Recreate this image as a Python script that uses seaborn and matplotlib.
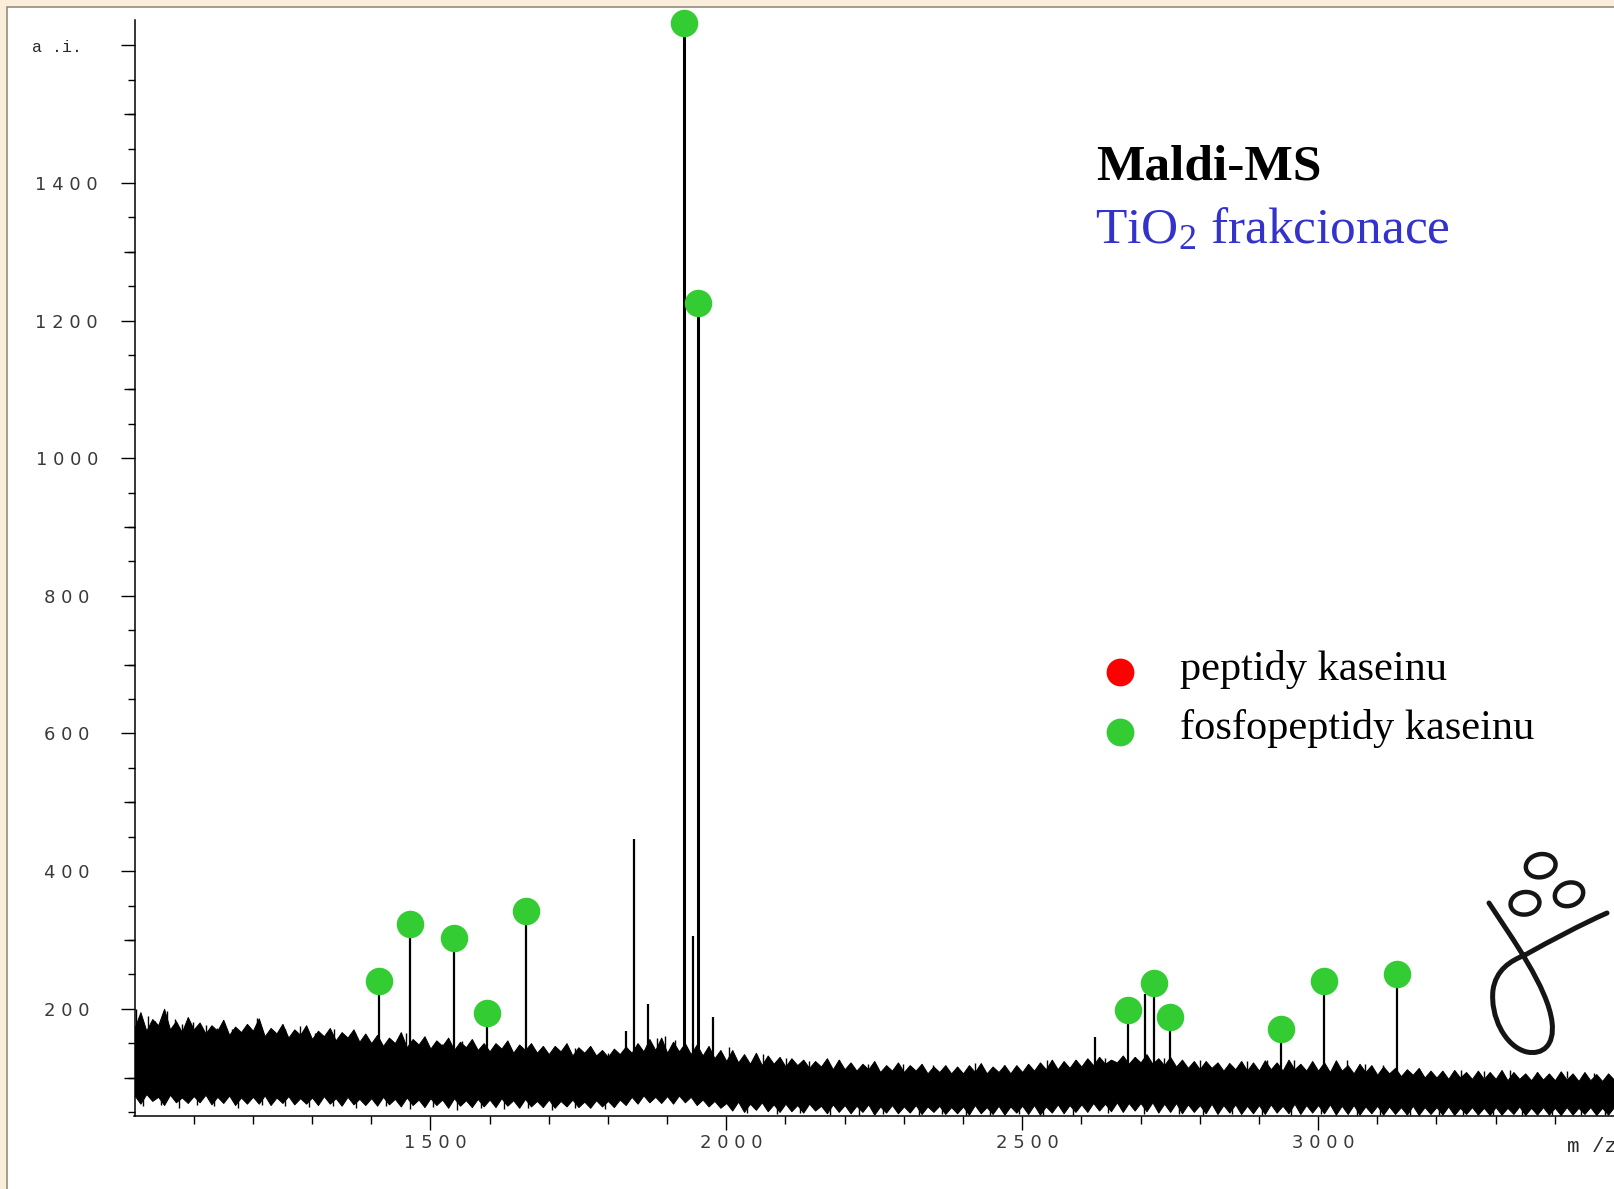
import matplotlib
matplotlib.use("Agg")
import matplotlib.pyplot as plt
import matplotlib.transforms as mtransforms
from matplotlib.patches import Rectangle, Ellipse, PathPatch
from matplotlib.path import Path
import pandas as pd
import seaborn as sns

# ---------------------------------------------------------------- data
# baseline noise of the spectrum, sampled every 10 m/z: upper and lower edge of the trace
noise_mz = list(range(1000, 3501, 10))
noise_top = [172, 195, 168, 185, 176, 200, 170, 182, 166, 188,
             170, 180, 164, 176, 168, 184, 162, 174, 166, 178,
             168, 186, 160, 172, 164, 178, 158, 170, 162, 176,
             156, 168, 160, 172, 154, 166, 158, 170, 152, 164,
             150, 162, 146, 158, 150, 166, 144, 156, 148, 160,
             142, 154, 146, 158, 140, 152, 144, 156, 140, 150,
             138, 150, 142, 154, 136, 148, 140, 150, 136, 146,
             134, 146, 138, 150, 132, 144, 136, 146, 132, 140,
             130, 142, 134, 145, 136, 150, 138, 156, 140, 158,
             136, 152, 138, 150, 134, 148, 132, 146, 128, 140,
             124, 140, 122, 134, 120, 136, 118, 132, 120, 130,
             116, 128, 118, 126, 114, 124, 116, 128, 112, 126,
             112, 122, 110, 120, 112, 124, 108, 118, 110, 122,
             108, 118, 110, 120, 106, 116, 108, 118, 106, 116,
             106, 118, 108, 121, 106, 116, 108, 118, 106, 118,
             108, 120, 110, 122, 112, 126, 112, 124, 114, 126,
             116, 128, 118, 130, 120, 126, 122, 132, 120, 130,
             122, 134, 120, 128, 118, 130, 116, 126, 114, 124,
             112, 124, 114, 122, 110, 121, 112, 124, 110, 122,
             110, 125, 112, 122, 110, 126, 112, 120, 110, 124,
             110, 122, 108, 125, 110, 118, 106, 120, 108, 118,
             104, 116, 106, 114, 102, 112, 104, 114, 100, 110,
             100, 110, 98, 111, 100, 108, 98, 110, 98, 108,
             98, 111, 96, 108, 98, 106, 96, 108, 97, 106,
             96, 109, 97, 106, 95, 108, 96, 105, 95, 106,
             97]
noise_bottom = [74, 62, 76, 66, 72, 60, 75, 64, 71, 63,
                73, 64, 75, 61, 72, 63, 74, 60, 71, 62,
                72, 62, 74, 60, 71, 63, 73, 61, 70, 62,
                71, 60, 73, 62, 70, 59, 72, 61, 69, 60,
                70, 59, 72, 61, 69, 58, 71, 60, 68, 57,
                70, 60, 68, 56, 70, 59, 67, 57, 69, 58,
                68, 57, 70, 59, 67, 56, 69, 58, 66, 57,
                68, 56, 66, 58, 68, 57, 65, 56, 67, 58,
                66, 57, 68, 60, 72, 62, 74, 64, 72, 63,
                73, 62, 74, 64, 72, 60, 68, 58, 66, 56,
                63, 52, 65, 50, 62, 53, 64, 51, 61, 50,
                62, 51, 60, 49, 62, 52, 59, 48, 61, 50,
                60, 48, 59, 50, 61, 46, 58, 49, 60, 48,
                58, 49, 60, 47, 58, 50, 59, 47, 57, 48,
                58, 46, 60, 48, 57, 47, 59, 46, 58, 49,
                59, 47, 60, 46, 58, 49, 61, 48, 60, 50,
                61, 50, 63, 52, 62, 51, 64, 50, 63, 52,
                63, 51, 64, 49, 62, 50, 63, 48, 61, 50,
                60, 48, 62, 47, 60, 49, 61, 47, 59, 48,
                60, 47, 61, 49, 59, 48, 62, 47, 60, 49,
                60, 48, 61, 46, 59, 47, 60, 46, 58, 48,
                59, 46, 58, 47, 57, 46, 59, 45.5, 57, 47,
                57, 46, 58, 45.5, 56, 47, 57, 46, 56, 45.5,
                57, 46, 56, 47, 58, 45.5, 56, 46, 57, 46,
                56, 45.5, 57, 46, 56, 47, 57, 45.5, 56, 46,
                57]

# isolated noise spikes above / below the band
spike_up_mz = [1003, 1012, 1022, 1035, 1050, 1055, 1068, 1080, 1099, 1120, 1140, 1165, 1188,
               1207, 1230, 1255, 1280, 1305, 1337, 1355, 1372, 1395, 1430, 1459, 1485, 1520,
               1554, 1575, 1610, 1635, 1654, 1690, 1713, 1744, 1770, 1800, 1883, 1897,
               1913, 2005, 2030, 2062, 2101, 2140, 2191, 2240, 2299, 2350, 2390, 2420, 2470,
               2542, 2591, 2640, 2665, 2690, 2740, 2800, 2849, 2880, 2914, 2960, 2990, 3049,
               3080, 3110, 3170, 3241, 3280, 3325, 3370, 3420, 3466]
spike_up_top = [200, 185, 190, 182, 188, 196, 185, 178, 180, 176, 172, 170, 168,
                187, 166, 170, 175, 165, 171, 160, 165, 155, 152, 164, 150, 148,
                153, 145, 146, 142, 141, 140, 143, 143, 138, 135, 158, 160,
                154, 144, 130, 134, 128, 124, 126, 120, 120, 118, 116, 121, 118,
                126, 126, 128, 121, 130, 128, 126, 121, 124, 125, 126, 118, 125,
                120, 118, 112, 111, 110, 111, 108, 109, 106]
spike_down_mz = [1015, 1045, 1075, 1105, 1135, 1175, 1215, 1255, 1295, 1335, 1375, 1425, 1465,
                 1505, 1545, 1585, 1625, 1665, 1705, 1745, 1795, 2035, 2085, 2125, 2175, 2225,
                 2265, 2325, 2365, 2405, 2445, 2495, 2535, 2585, 2645, 2705, 2765, 2805, 2855,
                 2905, 2955, 3005, 3065, 3105, 3155, 3205, 3245, 3295, 3345, 3395, 3445, 3485]
spike_down_low = [58, 60, 56, 60, 59, 56, 60, 58, 57, 59, 56, 58, 54,
                  57, 53, 56, 54, 56, 53, 55, 54, 48, 47, 48, 46, 45,
                  47, 46, 47, 45, 45, 47, 45, 46, 48, 47, 47, 45, 47,
                  46, 45, 47, 45, 46, 45, 45, 45, 45, 45, 45, 45, 45]

# resolved peaks (m/z, intensity) and whether they are casein phosphopeptides
peak_mz = [1413, 1466, 1540, 1595, 1661, 1830, 1844, 1868, 1929, 1944, 1953, 1977,
           2623, 2678, 2708, 2723, 2750, 2937, 3010, 3134]
peak_int = [240, 323, 303, 194, 342, 167, 446, 207, 1633, 305, 1226, 188,
            159, 198, 222, 237, 188, 171, 240, 250]
phospho = [True, True, True, True, True, False, False, False, True, False, True, False,
           False, True, False, True, True, True, True, True]

x_major = [1500, 2000, 2500, 3000]
x_minor = [v for v in range(1100, 3500, 100) if v % 500]
y_major = [200, 400, 600, 800, 1000, 1200, 1400, 1600]
y_labels = ["2 0 0", "4 0 0", "6 0 0", "8 0 0", "1 0 0 0", "1 2 0 0", "1 4 0 0", ""]
y_medium = [100, 300, 500, 700, 900, 1100, 1300, 1500]
y_minor = [v for v in range(50, 1601, 50) if v % 200]

legend_labels = ["peptidy kaseinu", "fosfopeptidy kaseinu"]
legend_colors = ["#FF0000", "#33CC33"]

# ---------------------------------------------------------------- style
sns.set_style("white")
plt.rcParams["font.family"] = ["DejaVu Sans"]
plt.rcParams["mathtext.fontset"] = "custom"
plt.rcParams["mathtext.rm"] = "Liberation Serif"
plt.rcParams["mathtext.it"] = "Liberation Serif:italic"
plt.rcParams["mathtext.bf"] = "Liberation Serif:bold"

W, H = 1614, 1189
fig = plt.figure(figsize=(W / 100, H / 100), dpi=100, facecolor="white")

ax_left, ax_bottom, ax_top = 134.5, 1115.7, 20.0
ax = fig.add_axes([ax_left / W, 1 - ax_bottom / H, (W - ax_left) / W, (ax_bottom - ax_top) / H])
ax.set_facecolor("none")
ax.set_xlim(1000, 3500)
ax.set_ylim(44.5, 1637)

# noise band and isolated spikes
ax.fill_between(noise_mz, noise_bottom, noise_top, color="black", lw=0.7, zorder=2)
ax.vlines(spike_up_mz, 100, spike_up_top, colors="black", lw=1.0, zorder=2)
ax.vlines(spike_down_mz, spike_down_low, 90, colors="black", lw=1.0, zorder=2)

# peaks
peak_lw = [2.2 if v > 1000 else 1.6 for v in peak_int]
ax.vlines(peak_mz, 100, peak_int, colors="black", lw=peak_lw, zorder=3)

# phosphopeptide markers
markers = pd.DataFrame({"mz": peak_mz, "intensity": peak_int, "phospho": phospho})
markers = markers[markers["phospho"]]
sns.scatterplot(data=markers, x="mz", y="intensity", color="#33CC33", s=392,
                linewidth=0, ax=ax, zorder=4, legend=False)
for coll in ax.collections[-1:]:
    coll.set_clip_on(False)

# axes, spines and ticks
for side in ("top", "right"):
    ax.spines[side].set_visible(False)
for side in ("left", "bottom"):
    ax.spines[side].set_linewidth(1.1)
    ax.spines[side].set_color("black")
ax.set_xlabel("")
ax.set_ylabel("")

tick_font = dict(family="DejaVu Sans", size=13, color="#3a3a3a")
ax.set_xticks(x_major)
ax.set_xticklabels([" ".join(str(v)) for v in x_major], **tick_font)
ax.set_xticks(x_minor, minor=True)
ax.set_yticks(y_major)
ax.set_yticklabels(y_labels, **tick_font)
ax.set_yticks(y_minor, minor=True)
ax.tick_params(which="both", left=True, bottom=True, direction="out", color="black", width=1.0)
ax.tick_params(axis="x", which="major", length=10.3, pad=3)
ax.tick_params(axis="x", which="minor", length=5.5)
ax.tick_params(axis="y", which="major", length=10.3, pad=38.5)
ax.tick_params(axis="y", which="minor", length=5.3)
for lbl in ax.get_yticklabels():
    lbl.set_horizontalalignment("center")
shift = mtransforms.ScaledTranslation(5 / 100, 0, fig.dpi_scale_trans)
for lbl in ax.get_xticklabels():
    lbl.set_transform(lbl.get_transform() + shift)

# medium-length ticks at odd hundreds
ax_w_px = W - ax_left
yaxis_tr = mtransforms.blended_transform_factory(ax.transAxes, ax.transData)
ax.hlines(y_medium, -11.0 / ax_w_px, 0, transform=yaxis_tr, colors="black", lw=1.0, clip_on=False)

# ---------------------------------------------------------------- overlay (pixel coordinates)
ov = fig.add_axes([0, 0, 1, 1], zorder=5)
ov.set_xlim(0, W)
ov.set_ylim(H, 0)
ov.axis("off")
ov.patch.set_alpha(0)

# slide frame
beige = "#FAEEDA"
ov.add_patch(Rectangle((0, 0), W, 7, facecolor=beige, edgecolor="none"))
ov.add_patch(Rectangle((0, 0), 7, H, facecolor=beige, edgecolor="none"))
ov.plot([7, 7, W], [H, 7, 7], color="#8c8373", lw=1.1, solid_joinstyle="miter")

# axis captions
ov.text(82, 47, "a .i.", family="Liberation Mono", size=12, color="#2a2a2a",
        ha="right", va="center")
ov.text(1567, 1152, "m /z", family="Liberation Mono", size=15, color="#2a2a2a",
        ha="left", va="baseline")

# titles
ov.text(1096, 180, "Maldi-MS", family="Liberation Serif", weight="bold", size=37,
        color="black", ha="left", va="baseline")
ov.text(1095, 243, r"TiO$_2$ frakcionace", family="Liberation Serif", size=37,
        color="#3333CC", ha="left", va="baseline")

# legend
leg_y_dot = [671.7, 731.7]
leg_y_txt = [680, 739.3]
for lab, col, yd, yt in zip(legend_labels, legend_colors, leg_y_dot, leg_y_txt):
    ov.scatter([1120], [yd], s=400, color=col, linewidth=0)
    ov.text(1180, yt, lab, family="Liberation Serif", size=30.5, color="black",
            ha="left", va="baseline")

# logo
for cx, cy, w, h, ang in [(1540.7, 865.7, 30, 23, -12), (1525, 903.3, 29, 22.5, -8),
                          (1569, 894.3, 29, 23, -20)]:
    ov.add_patch(Ellipse((cx, cy), w, h, angle=ang, fill=False, lw=3.2, edgecolor="#151515"))
verts = [(1489, 903),
         (1512, 938), (1548, 988), (1552, 1022),
         (1555, 1046), (1542, 1055), (1527, 1052),
         (1505, 1047), (1490, 1016), (1493, 990),
         (1496, 970), (1510, 961), (1525, 955),
         (1552, 940), (1580, 925), (1607, 913)]
codes = [Path.MOVETO] + [Path.CURVE4] * 15
ov.add_patch(PathPatch(Path(verts, codes), fill=False, lw=3.6, edgecolor="#151515",
                       capstyle="round"))

fig.savefig("out.png", dpi=100, facecolor="white")
